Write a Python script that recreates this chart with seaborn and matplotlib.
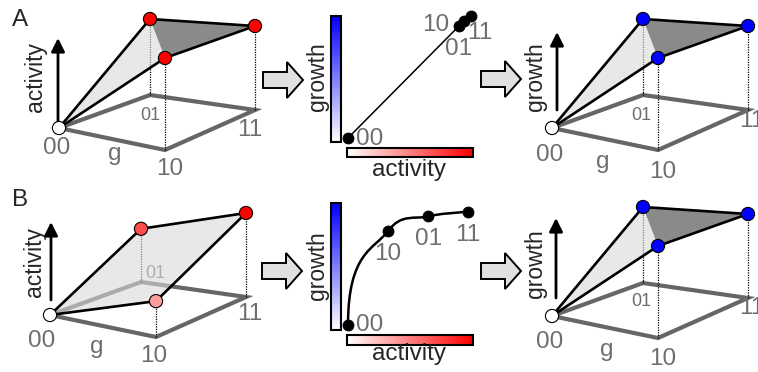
import numpy as np
import matplotlib
matplotlib.use("Agg")
import matplotlib.pyplot as plt
import seaborn as sns
from matplotlib.colors import LinearSegmentedColormap
from matplotlib.patches import Polygon, FancyArrow, Rectangle, PathPatch
from matplotlib.path import Path

# genotypes and the values
genotypes = ["00", "10", "01", "11"]

# landscape heights (0..1)
activity_A = [0.0, 1.0, 1.0, 1.0]
growth_A = [0.0, 1.0, 1.0, 1.0]
activity_B = [0.0, 0.39, 0.70, 1.0]
growth_B = [0.0, 1.0, 1.0, 1.0]

# activity -> growth map (middle panels)
map_activity_A = [0.0, 0.89, 0.93, 0.98]
map_growth_A = [0.0, 0.92, 0.96, 1.0]
map_activity_B = [0.0, 0.32, 0.64, 0.96]
map_growth_B = [0.0, 0.77, 0.89, 0.93]

sns.set_style("white")
plt.rcParams["font.family"] = ["Liberation Sans", "DejaVu Sans"]

W, H = 758, 372
reds = LinearSegmentedColormap.from_list("w_red", ["white", "#ff0000"])
blues = LinearSegmentedColormap.from_list("w_blue", ["white", "#0000ff"])
TICK = "#6e6e6e"

fig = plt.figure(figsize=(W / 100, H / 100), dpi=100)
bg = fig.add_axes([0, 0, 1, 1])
bg.axis("off")

# oblique projection of the genotype square (pixel units)
E1 = (106, 22)      # first digit
E2 = (91, -33)      # second digit
EX = (-1, -7)       # small perspective correction for "11"
HSCALE = (84, 8, -8)


def project(origin, g1, g2, h):
    x = origin[0] + g1 * E1[0] + g2 * E2[0] + g1 * g2 * EX[0]
    y = origin[1] + g1 * E1[1] + g2 * E2[1] + g1 * g2 * EX[1]
    s = HSCALE[0] + HSCALE[1] * g1 + HSCALE[2] * g2
    return x, y - h * s


def landscape(origin, heights, cmap, split, word, arrow, word_pos, offs):
    g1 = [int(s[0]) for s in genotypes]
    g2 = [int(s[1]) for s in genotypes]
    base = [project(origin, a, b, 0) for a, b in zip(g1, g2)]
    top = [project(origin, a, b, h) for a, b, h in zip(g1, g2, heights)]
    loop = [0, 1, 3, 2, 0]
    bg.plot([base[i][0] for i in loop], [base[i][1] for i in loop],
            color="#666666", lw=3, solid_joinstyle="miter", zorder=1)
    # genotype labels on the floor
    for i, gt in enumerate(genotypes):
        dx, dy = offs[gt]
        bg.text(base[i][0] + dx, base[i][1] + dy + 2, gt, color=TICK,
                fontsize=13 if gt == "01" else 17.5, ha="center", va="center",
                zorder=1)
    mid = ((base[0][0] + base[1][0]) / 2, (base[0][1] + base[1][1]) / 2)
    bg.text(mid[0] + offs["g"][0], mid[1] + offs["g"][1], "g", color=TICK,
            fontsize=17.5, ha="center", va="center", zorder=1)
    for i in range(1, 4):
        bg.plot([base[i][0], top[i][0]], [base[i][1], top[i][1]], ls=(0, (1, 1)),
                color="k", lw=0.9, zorder=2)
    if split:
        bg.add_patch(Polygon([top[0], top[2], top[1]], closed=True, fc="#dadada",
                             ec="none", alpha=0.6, zorder=3))
        bg.add_patch(Polygon([top[2], top[3], top[1]], closed=True, fc="#8a8a8a",
                             ec="none", zorder=3))
    else:
        bg.add_patch(Polygon([top[0], top[1], top[3], top[2]], closed=True,
                             fc="#dadada", ec="none", alpha=0.6, zorder=3))
    for a, b in [(0, 1), (0, 2), (1, 3), (2, 3)]:
        bg.plot([top[a][0], top[b][0]], [top[a][1], top[b][1]], color="k",
                lw=1.9, solid_capstyle="round", zorder=4)
    pal = {gt: cmap(h) for gt, h in zip(genotypes, heights)}
    sns.scatterplot(x=[p[0] for p in top], y=[p[1] for p in top], hue=genotypes,
                    palette=pal, s=90, edgecolor="k", linewidth=0.8, legend=False,
                    ax=bg, zorder=6)
    # value arrow and its name
    ax_x, tail, tip = arrow
    bg.annotate("", xy=(origin[0] + ax_x, origin[1] + tip),
                xytext=(origin[0] + ax_x, origin[1] + tail),
                arrowprops=dict(arrowstyle="-|>", lw=2, color="k", mutation_scale=20,
                                shrinkA=0, shrinkB=0), zorder=2)
    bg.text(origin[0] + word_pos[0], origin[1] + word_pos[1], word, rotation=90,
            fontsize=16.5, ha="center", va="center")


def px_rect(left, top, right, bottom):
    return [left / W, 1 - bottom / H, (right - left) / W, (bottom - top) / H]


def map_panel(box, act, gro, curved, offs):
    ax = fig.add_axes(px_rect(*box))
    ax.set_xlim(0, 1)
    ax.set_ylim(0, 1)
    ax.axis("off")
    if curved:
        P = np.column_stack([act, gro])
        T = np.zeros_like(P)
        T[0] = (0, 3 * 0.78 * (P[1, 1] - P[0, 1]))
        T[1:-1] = (P[2:] - P[:-2]) / 2
        T[-1] = P[-1] - P[-2]
        verts, codes = [P[0]], [Path.MOVETO]
        for i in range(len(P) - 1):
            verts += [P[i] + T[i] / 3, P[i + 1] - T[i + 1] / 3, P[i + 1]]
            codes += [Path.CURVE4] * 3
        ax.add_patch(PathPatch(Path(verts, codes), fc="none", ec="k", lw=1.8,
                               clip_on=False))
    else:
        ax.plot(act, gro, color="k", lw=1.1, clip_on=False)
    sns.scatterplot(x=act, y=gro, color="k", s=62, edgecolor="k", ax=ax,
                    clip_on=False, zorder=5, legend=False)
    for gt, x, y in zip(genotypes, act, gro):
        dx, dy = offs[gt]
        ax.annotate(gt, (x, y), xytext=(dx, dy - 2), textcoords="offset pixels",
                    color=TICK, fontsize=17.5, ha="center", va="center")


def colorbars(gbar, abar, gpos, apos):
    grad = np.linspace(0, 1, 256)
    l, r, t, b = gbar
    bg.imshow(grad.reshape(-1, 1), cmap=blues, extent=(l, r, b, t), origin="lower",
              aspect="auto", zorder=1)
    bg.add_patch(Rectangle((l, t), r - l, b - t, fc="none", ec="k", lw=1.5, zorder=2))
    l, r, t, b = abar
    bg.imshow(grad.reshape(1, -1), cmap=reds, extent=(l, r, b, t), origin="lower",
              aspect="auto", zorder=1)
    bg.add_patch(Rectangle((l, t), r - l, b - t, fc="none", ec="k", lw=1.5, zorder=2))
    bg.text(*gpos, "growth", rotation=90, fontsize=16.5, ha="center", va="center")
    bg.text(*apos, "activity", fontsize=17.5, ha="center", va="center")


def block_arrow(x, y):
    bg.add_patch(FancyArrow(x, y, 40, 0, width=16, head_width=36, head_length=16,
                            length_includes_head=True, fc="#e0e0e0", ec="k", lw=1.4,
                            zorder=3))


# ---- row A ----
landscape((59, 128), activity_A, reds, True, "activity", (-1, -3, -90), (-24, -51),
          {"00": (-2, 18), "10": (5, 17), "01": (0, 19), "11": (-5, 18), "g": (3, 15)})
landscape((552, 128), growth_A, blues, True, "growth", (5, -18, -96), (-17, -51),
          {"00": (-2, 25), "10": (5, 20), "01": (-2, 18), "11": (4, 9), "g": (-2, 23)})
map_panel((348, 16, 473, 138), map_activity_A, map_growth_A, False,
          {"00": (22, 1), "10": (-24, 3), "01": (-6, -26), "11": (9, -15)})
colorbars((331, 341, 16, 142), (347, 473, 148, 157), (317.5, 77), (409, 170))
block_arrow(263, 80)
block_arrow(481, 79)

# ---- row B ----
landscape((50, 315), activity_B, reds, False, "activity", (1, -15, -93), (-15.5, -53),
          {"00": (-8, 24), "10": (-2, 17), "01": (14, -10), "11": (4, 15), "g": (-6, 21)})
landscape((552, 316), growth_B, blues, True, "growth", (4, -18, -98), (-16, -52),
          {"00": (-2, 24), "10": (5, 19), "01": (-2, 17), "11": (4, 8), "g": (2, 23)})
map_panel((348, 203, 473, 325), map_activity_B, map_growth_B, True,
          {"00": (22, 2), "10": (0, -21), "01": (1, -21), "11": (0, -21)})
colorbars((331, 341, 203, 330), (347, 473, 335, 345), (317, 266), (409, 354))
block_arrow(262, 271)
block_arrow(481, 271)

bg.text(20, 20, "A", fontsize=17.5, ha="center", va="center")
bg.text(20, 200, "B", fontsize=17.5, ha="center", va="center")

bg.set_xlim(0, W)
bg.set_ylim(H, 0)

fig.savefig("out.png", dpi=100)
